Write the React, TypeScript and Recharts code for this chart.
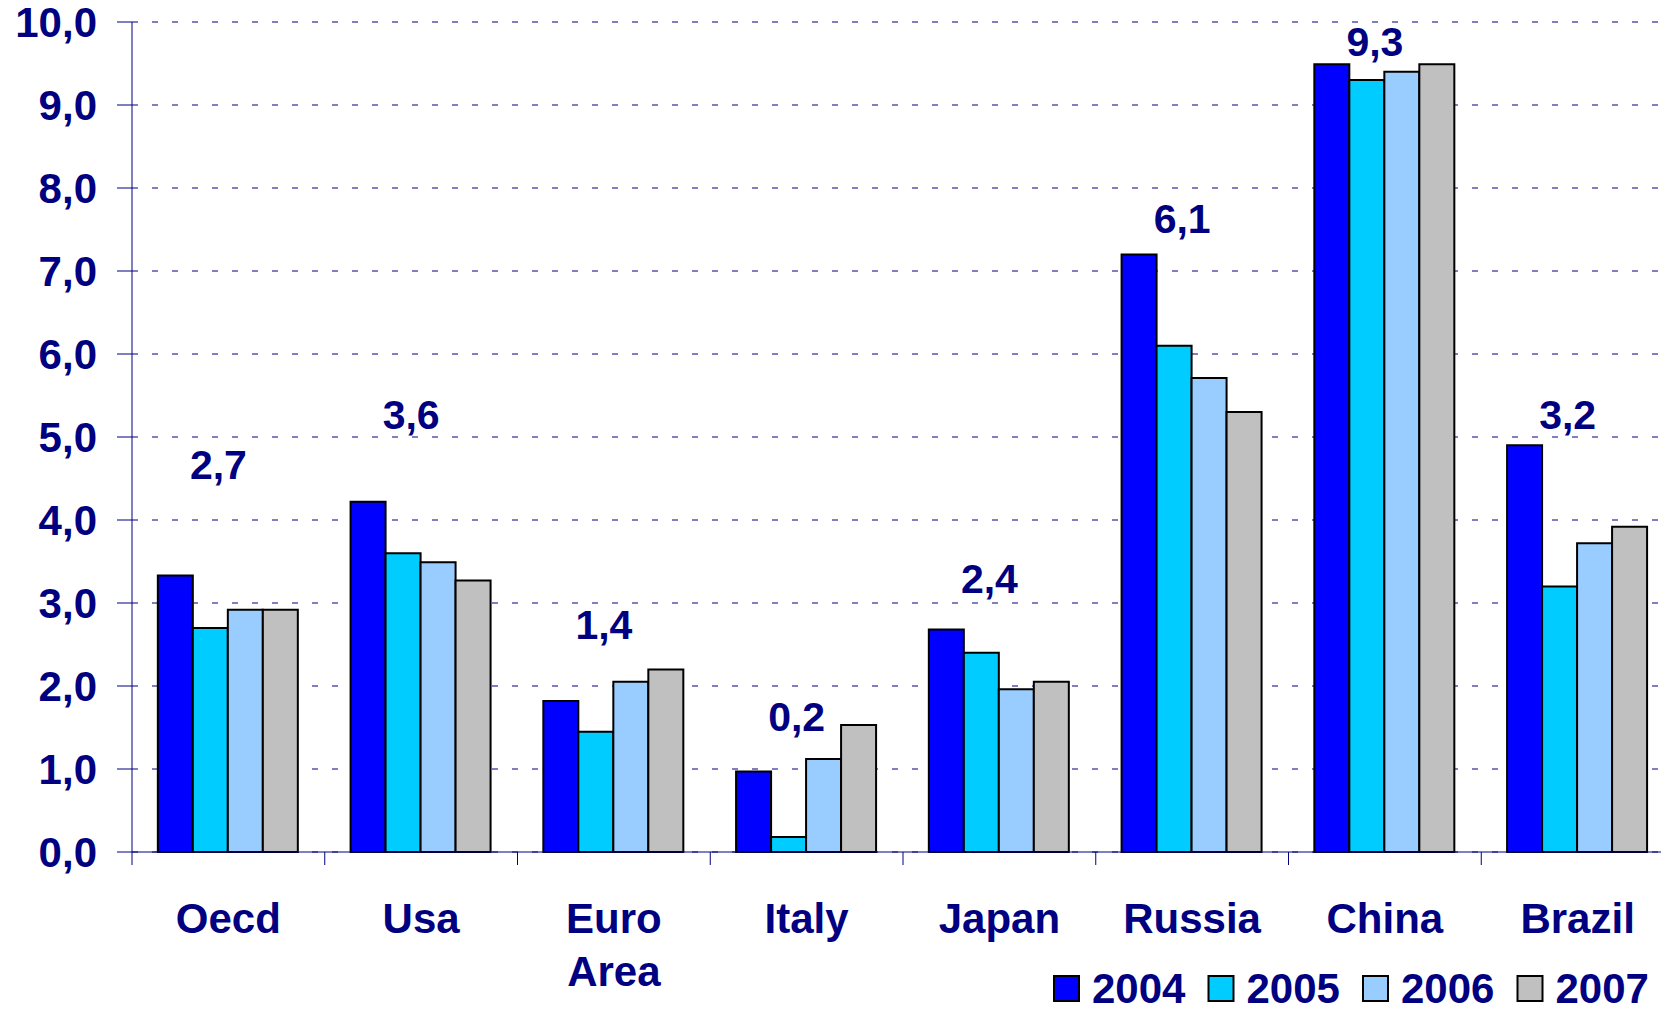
import React from 'react';
import { ComposedChart, Bar, Line, XAxis, YAxis, CartesianGrid, Legend, LabelList } from 'recharts';

const categories = ['Oecd', 'Usa', 'Euro Area', 'Italy', 'Japan', 'Russia', 'China', 'Brazil'];
const y2004 = [3.33, 4.22, 1.82, 0.97, 2.68, 7.2, 9.49, 4.9];
const y2005 = [2.7, 3.6, 1.45, 0.18, 2.4, 6.1, 9.3, 3.2];
const y2006 = [2.92, 3.49, 2.05, 1.12, 1.96, 5.71, 9.4, 3.72];
const y2007 = [2.92, 3.27, 2.2, 1.53, 2.05, 5.3, 9.49, 3.92];
// where the callout numbers sit, in axis units
const labelLevel = [4.66, 5.27, 2.74, 1.63, 3.29, 7.63, 9.76, 5.27];
const yTicks = [0, 1, 2, 3, 4, 5, 6, 7, 8, 9, 10];

const series = [
    { key: 'y2004', name: '2004', color: '#0000FF' },
    { key: 'y2005', name: '2005', color: '#00CCFF' },
    { key: 'y2006', name: '2006', color: '#99CCFF' },
    { key: 'y2007', name: '2007', color: '#C0C0C0' },
];

const data = categories.map((c, i) => ({
    name: c,
    y2004: y2004[i],
    y2005: y2005[i],
    y2006: y2006[i],
    y2007: y2007[i],
    labelLevel: labelLevel[i],
}));

const NAVY = '#000080';
const FONT = '"Liberation Sans", Arial, sans-serif';
const W = 1674;
const H = 1012;
const Y_AXIS_W = 132;
const LEGEND_H = 52;
const CAT_W = (W - Y_AXIS_W) / categories.length;

const fmt = (v: number) => v.toFixed(1).replace('.', ',');

const CategoryTick = (props: any) => {
    const { x, y, payload, index } = props;
    const lines = String(payload.value).split(' ');
    return (
        <g>
            <line x1={x - CAT_W / 2} x2={x - CAT_W / 2} y1={y} y2={y + 13} stroke={NAVY} strokeWidth={1} />
            {index === categories.length - 1 &&
                <line x1={x + CAT_W / 2} x2={x + CAT_W / 2} y1={y} y2={y + 13} stroke={NAVY} strokeWidth={1} />}
            {lines.map((l, i) => (
                <text key={i} x={x} y={y + 66 + i * 53} textAnchor="middle" dominantBaseline="central"
                      fill={NAVY} fontSize={42} fontWeight="bold" fontFamily={FONT}>{l}</text>
            ))}
        </g>
    );
};

const Callout = (props: any) => {
    const { x, y, index } = props;
    return (
        <text x={x - 10} y={y} textAnchor="middle" dominantBaseline="central"
              fill={NAVY} fontSize={41} fontWeight="bold" fontFamily={FONT}>
            {fmt(y2005[index])}
        </text>
    );
};

// legend drawn as svg so it lines up with the chart text
const LegendBox = (props: any) => {
    const items = (props.payload || []).filter((p: any) => series.some(s => s.key === p.dataKey));
    return (
        <svg width={W} height={LEGEND_H} style={{ display: 'block' }}>
            {items.map((p: any, i: number) => {
                const x0 = 1053 + i * 154.5;
                return (
                    <g key={p.dataKey}>
                        <rect x={x0 + 1} y={16} width={25} height={25} fill={p.color} stroke="#000" strokeWidth={2} />
                        <text x={x0 + 39} y={43} fill={NAVY} fontSize={42} fontWeight="bold" fontFamily={FONT}>{p.value}</text>
                    </g>
                );
            })}
        </svg>
    );
};

const App: React.FC = () => {
    return (
        <div style={{ position: 'absolute', left: 0, top: 0, width: 1661, height: H, overflow: 'hidden', background: '#fff' }}>
            <ComposedChart width={W} height={H} data={data} barCategoryGap="13.4%" barGap={0}
                           margin={{ top: 22, right: 0, left: 0, bottom: 0 }}>
                <CartesianGrid vertical={false} stroke={NAVY} strokeDasharray="6 14" />
                <XAxis dataKey="name" height={108} tickSize={0} tickMargin={0} interval={0}
                       axisLine={{ stroke: NAVY, strokeWidth: 1 }} tickLine={false} tick={<CategoryTick />} />
                <YAxis width={Y_AXIS_W} domain={[0, 10]} ticks={yTicks} tickFormatter={fmt} interval={0}
                       tickSize={15} tickMargin={20}
                       axisLine={{ stroke: NAVY, strokeWidth: 1 }} tickLine={{ stroke: NAVY, strokeWidth: 1 }}
                       tick={{ fill: NAVY, fontSize: 42, fontWeight: 'bold', fontFamily: FONT }} />
                <Legend verticalAlign="bottom" height={LEGEND_H} content={<LegendBox />} />
                {series.map(s => (
                    <Bar key={s.key} dataKey={s.key} name={s.name} fill={s.color} stroke="#000" strokeWidth={2}
                         isAnimationActive={false} />
                ))}
                <Line dataKey="labelLevel" stroke="none" dot={false} activeDot={false} legendType="none"
                      isAnimationActive={false}>
                    <LabelList dataKey="labelLevel" content={<Callout />} />
                </Line>
            </ComposedChart>
        </div>
    );
}

export default App
